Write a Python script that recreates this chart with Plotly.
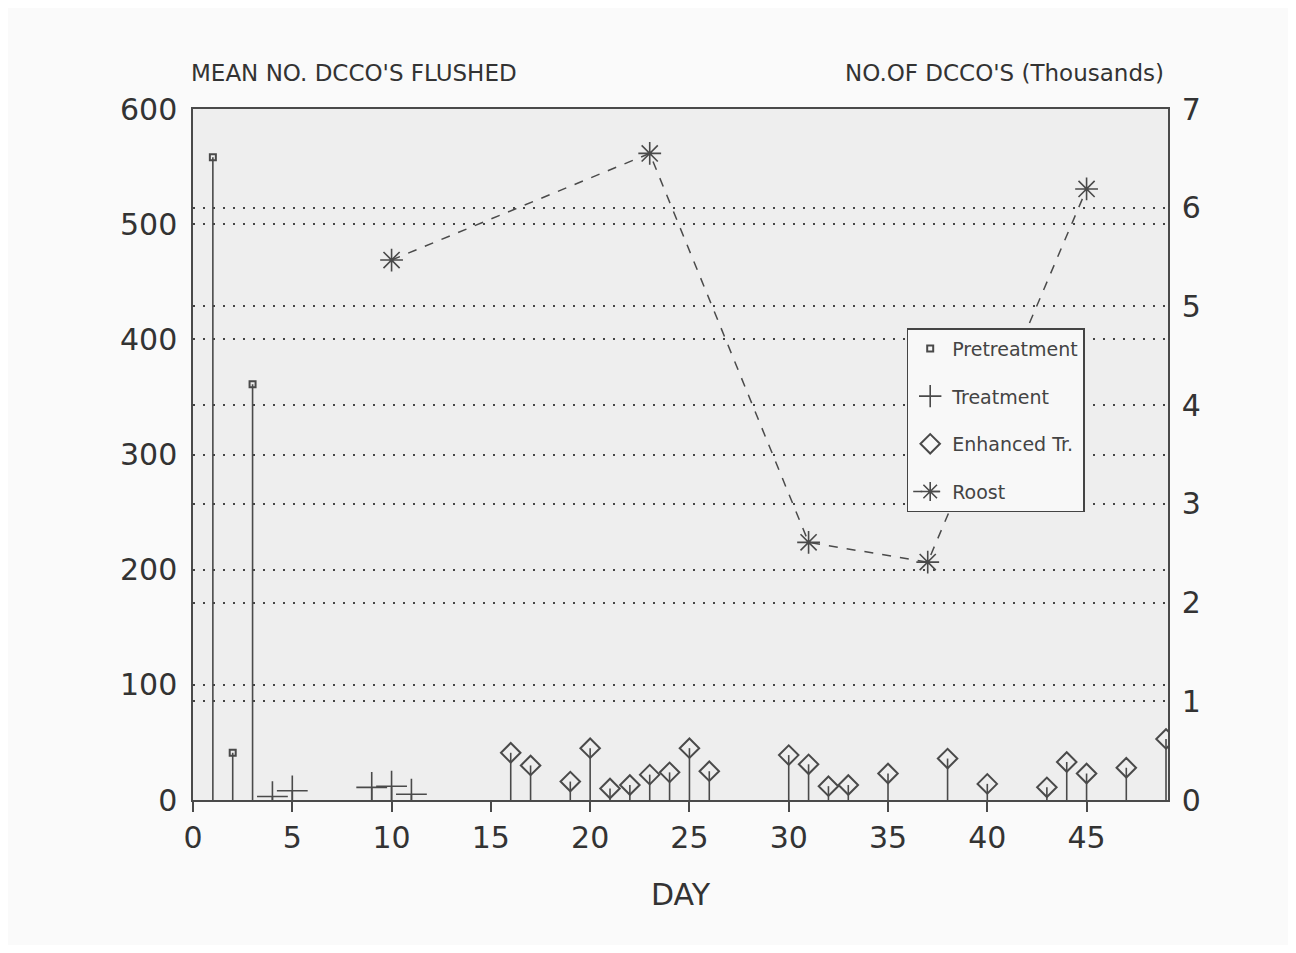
import plotly.graph_objects as go

# ---- data ----
pre_days = [1, 2, 3]
pre_vals = [558, 41, 361]

trt_days = [4, 5, 9, 10, 11]
trt_vals = [3, 8, 11, 12, 5]

enh_days = [16, 17, 19, 20, 21, 22, 23, 24, 25, 26, 30, 31, 32, 33, 35, 38, 40, 43, 44, 45, 47, 49]
enh_vals = [41, 30, 16, 45, 10, 13, 22, 24, 45, 25, 39, 31, 12, 13, 23, 36, 14, 11, 33, 23, 28, 53]

roost_days = [10, 23, 31, 37, 45]
roost_vals = [5.47, 6.55, 2.61, 2.41, 6.19]  # thousands

x_ticks = [0, 5, 10, 15, 20, 25, 30, 35, 40, 45]
y_ticks = [0, 100, 200, 300, 400, 500, 600]
y2_ticks = [0, 1, 2, 3, 4, 5, 6, 7]

INK = "#4a4a4a"
FONT = "DejaVu Sans, Liberation Sans, Arial, sans-serif"
GRID_DASH = "2px,8px"

def stems(vals):
    return dict(type="data", symmetric=False, array=[0] * len(vals),
                arrayminus=vals, width=0, thickness=1.6, color=INK)

fig = go.Figure()

fig.add_trace(go.Scatter(
    x=pre_days, y=pre_vals, mode="markers", name="Pretreatment",
    legendgroup="a",
    marker=dict(symbol="square-open", size=6, color=INK, line=dict(width=2, color=INK)),
    error_y=stems(pre_vals)))

fig.add_trace(go.Scatter(
    x=trt_days, y=trt_vals, mode="markers", name="Treatment",
    legendgroup="b",
    marker=dict(symbol="cross-thin-open", size=22, color=INK, line=dict(width=1.6, color=INK)),
    error_y=stems(trt_vals)))

fig.add_trace(go.Scatter(
    x=enh_days, y=enh_vals, mode="markers", name="Enhanced Tr.",
    legendgroup="c",
    marker=dict(symbol="diamond-open", size=15, color=INK, line=dict(width=2, color=INK)),
    error_y=stems(enh_vals)))

fig.add_trace(go.Scatter(
    x=roost_days, y=roost_vals, mode="lines+markers", name="Roost",
    legendgroup="d", yaxis="y2",
    line=dict(color=INK, width=1.5, dash="dash"),
    marker=dict(symbol="asterisk-open", size=19, color=INK, line=dict(width=1.6, color=INK))))

fig.update_layout(
    width=1280, height=937,
    margin=dict(l=185, r=120, t=101, b=145),
    paper_bgcolor="#fafafa",
    plot_bgcolor="#eeeeee",
    font=dict(family=FONT, color="#333333", size=30),
    showlegend=True,
    legend=dict(x=0.732, y=0.683, xanchor="left", yanchor="top",
                bgcolor="#f8f8f8", bordercolor="#444444", borderwidth=1.5,
                font=dict(size=19, color="#444444"), tracegroupgap=20,
                itemwidth=34),
    xaxis=dict(range=[0, 49.1], tickvals=x_ticks, ticks="outside", ticklen=10,
               tickcolor=INK, tickwidth=1.5, showgrid=False, zeroline=False,
               showline=True, linecolor=INK, linewidth=2, mirror=True,
               title=dict(text="DAY", font=dict(size=30), standoff=30),
               tickfont=dict(size=30)),
    yaxis=dict(range=[0, 600], tickvals=y_ticks, ticks="", showgrid=True,
               gridcolor="#444444", griddash=GRID_DASH, gridwidth=1.5,
               zeroline=False, showline=True, linecolor=INK, linewidth=1.5,
               ticklabelstandoff=8, tickfont=dict(size=30)),
    yaxis2=dict(range=[0, 7], tickvals=y2_ticks, overlaying="y", side="right",
                showgrid=True, gridcolor="#444444", griddash=GRID_DASH, gridwidth=1.5,
                zeroline=False, showline=True, linecolor=INK, linewidth=1.5,
                ticklabelstandoff=6, tickfont=dict(size=30)),
    annotations=[
        dict(text="MEAN NO. DCCO'S FLUSHED", xref="paper", yref="paper",
             x=-0.004, y=1.03, xanchor="left", yanchor="bottom", showarrow=False,
             font=dict(size=23, color="#333333")),
        dict(text="NO.OF DCCO'S (Thousands)", xref="paper", yref="paper",
             x=0.998, y=1.03, xanchor="right", yanchor="bottom", showarrow=False,
             font=dict(size=23, color="#333333")),
    ],
)

fig.write_html("out.html")
